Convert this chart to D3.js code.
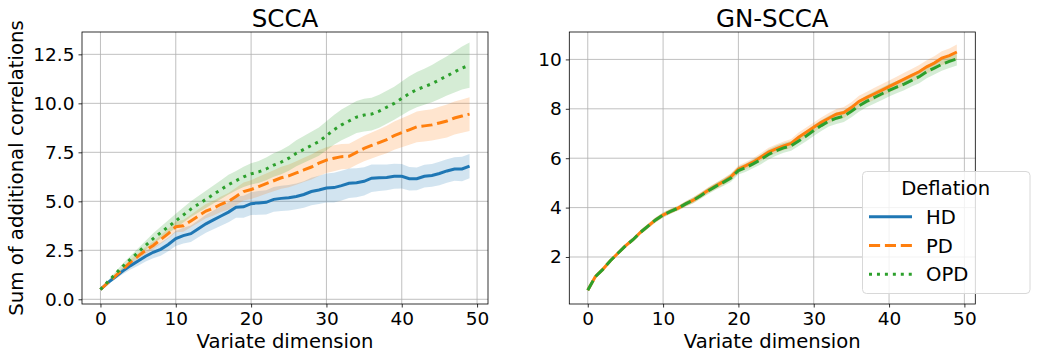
<!DOCTYPE html>
<html>
<head>
	<meta charset="UTF-8" />
	<title>SCCA vs GN-SCCA</title>
	<script src="https://d3js.org/d3.v7.min.js"></script>
	<style>
		body { margin: 0; background: #fff; }
		text { font-family: "DejaVu Sans", sans-serif; fill: #000; }
	</style>
</head>
<body>
	<svg id="chart" width="1037" height="360"></svg>

	<script type="text/javascript">
	// colours (matplotlib tab10)
	blue = "#1f77b4"
	orange = "#ff7f0e"
	green = "#2ca02c"

	// data
	var dims = d3.range(0, 50)
	var seriesNames = ["HD", "PD", "OPD"]

	var sccaHD = [0.5,0.85,1.15,1.45,1.72,1.95,2.2,2.4,2.55,2.8,3.1,3.25,3.35,3.6,3.85,4.05,4.25,4.45,4.7,4.72,4.88,4.92,4.95,5.1,5.15,5.18,5.25,5.35,5.5,5.58,5.68,5.7,5.8,5.92,5.95,6.02,6.18,6.2,6.22,6.28,6.28,6.15,6.15,6.28,6.32,6.42,6.55,6.65,6.65,6.8]
	var sccaHDsd = [0,0.08,0.12,0.16,0.2,0.24,0.27,0.3,0.33,0.35,0.38,0.4,0.42,0.44,0.46,0.48,0.5,0.52,0.54,0.56,0.58,0.6,0.62,0.63,0.64,0.65,0.66,0.68,0.7,0.72,0.74,0.76,0.76,0.75,0.74,0.72,0.7,0.68,0.66,0.64,0.62,0.6,0.58,0.58,0.58,0.6,0.6,0.6,0.62,0.62]
	var sccaPD = [0.5,0.85,1.2,1.55,1.9,2.2,2.5,2.75,3.05,3.35,3.7,3.75,4.0,4.25,4.5,4.65,4.85,5.0,5.25,5.5,5.6,5.75,5.9,6.05,6.2,6.3,6.45,6.6,6.75,6.95,7.1,7.2,7.28,7.3,7.5,7.7,7.85,8.0,8.15,8.35,8.5,8.65,8.8,8.85,8.9,9.0,9.1,9.25,9.35,9.45]
	var sccaPDsd = [0,0.05,0.08,0.1,0.13,0.15,0.18,0.2,0.22,0.25,0.28,0.3,0.32,0.34,0.36,0.38,0.4,0.42,0.44,0.46,0.48,0.5,0.52,0.54,0.56,0.58,0.6,0.62,0.64,0.66,0.66,0.66,0.65,0.64,0.64,0.65,0.66,0.68,0.7,0.72,0.74,0.76,0.78,0.8,0.8,0.82,0.84,0.84,0.85,0.86]
	var sccaOPD = [0.5,0.9,1.3,1.7,2.05,2.4,2.75,3.1,3.4,3.7,4.0,4.3,4.6,4.85,5.1,5.35,5.6,5.85,6.05,6.25,6.4,6.5,6.65,6.85,7.0,7.2,7.45,7.65,7.85,8.05,8.35,8.65,8.9,9.1,9.3,9.4,9.45,9.6,9.8,10.0,10.25,10.5,10.7,10.85,11.0,11.2,11.4,11.6,11.8,11.95]
	var sccaOPDsd = [0,0.06,0.1,0.14,0.17,0.2,0.24,0.27,0.3,0.33,0.36,0.38,0.4,0.42,0.44,0.46,0.48,0.5,0.5,0.52,0.54,0.56,0.58,0.6,0.62,0.64,0.66,0.68,0.7,0.72,0.74,0.76,0.78,0.8,0.82,0.84,0.84,0.84,0.84,0.84,0.86,0.88,0.9,0.92,0.95,0.98,1.0,1.05,1.1,1.15]

	var gnPD = [0.65,1.2,1.5,1.85,2.15,2.45,2.7,3.0,3.25,3.5,3.7,3.85,3.98,4.15,4.3,4.5,4.7,4.88,5.05,5.25,5.55,5.7,5.85,6.05,6.25,6.38,6.5,6.6,6.85,7.05,7.25,7.45,7.62,7.78,7.85,8.05,8.3,8.45,8.6,8.75,8.9,9.05,9.2,9.35,9.5,9.7,9.85,10.05,10.15,10.3]
	var gnPDsd = [0,0.04,0.05,0.06,0.07,0.08,0.08,0.09,0.1,0.1,0.1,0.1,0.1,0.11,0.12,0.12,0.12,0.13,0.14,0.14,0.15,0.15,0.16,0.16,0.17,0.17,0.18,0.18,0.19,0.19,0.2,0.2,0.21,0.21,0.22,0.22,0.23,0.23,0.24,0.24,0.25,0.25,0.26,0.26,0.27,0.27,0.28,0.28,0.29,0.3]
	var gnOPD = [0.65,1.2,1.5,1.85,2.15,2.45,2.7,3.0,3.25,3.5,3.7,3.85,3.98,4.15,4.3,4.48,4.68,4.86,5.02,5.2,5.5,5.62,5.78,5.95,6.15,6.3,6.42,6.5,6.7,6.9,7.12,7.32,7.5,7.62,7.7,7.9,8.12,8.3,8.45,8.6,8.75,8.88,9.0,9.15,9.3,9.5,9.65,9.8,9.92,10.02]
	var gnOPDsd = [0,0.04,0.05,0.06,0.07,0.08,0.08,0.09,0.1,0.1,0.1,0.1,0.1,0.11,0.12,0.12,0.13,0.14,0.15,0.16,0.16,0.17,0.18,0.19,0.2,0.2,0.2,0.2,0.21,0.21,0.22,0.22,0.22,0.23,0.23,0.24,0.24,0.24,0.25,0.25,0.25,0.25,0.25,0.25,0.26,0.26,0.26,0.26,0.27,0.27]

	var sccaTicksY = [0, 2.5, 5, 7.5, 10, 12.5]
	var gnTicksY = [2, 4, 6, 8, 10]
	var ticksX = [0, 10, 20, 30, 40, 50]

	var svg = d3.select("#chart")

	function pack(mean, sd){
		return dims.map((d,i) => ({x: d, y: mean[i], lo: mean[i]-sd[i], hi: mean[i]+sd[i]}))
	}

	function Panel(opts){
		var xScale = d3.scaleLinear().domain([-2.45, 51.45]).range([opts.left, opts.right])
		var yScale = d3.scaleLinear().domain(opts.yDomain).range([304, 32])
		var g = svg.append("g")

		// grid
		g.selectAll(".gx").data(ticksX).join("line")
			.attr("x1", d => xScale(d)).attr("x2", d => xScale(d))
			.attr("y1", 32).attr("y2", 304)
			.style("stroke", "#b0b0b0").style("stroke-width", 0.8)
		g.selectAll(".gy").data(opts.yTicks).join("line")
			.attr("y1", d => yScale(d)).attr("y2", d => yScale(d))
			.attr("x1", opts.left).attr("x2", opts.right)
			.style("stroke", "#b0b0b0").style("stroke-width", 0.8)

		var area = d3.area().x(d => xScale(d.x)).y0(d => yScale(d.lo)).y1(d => yScale(d.hi))
		var line = d3.line().x(d => xScale(d.x)).y(d => yScale(d.y))

		opts.series.forEach(s => {
			if(s.band) g.append("path").attr("d", area(s.data))
				.style("fill", s.color).style("fill-opacity", 0.2).style("stroke", "none")
		})
		opts.series.forEach(s => {
			g.append("path").attr("d", line(s.data))
				.style("fill", "none").style("stroke", s.color).style("stroke-width", 3)
				.style("stroke-dasharray", s.dash)
		})

		// axes
		var xAxis = d3.axisBottom(xScale).tickValues(ticksX).tickSize(3.5).tickPadding(4)
		var xg = g.append("g").attr("transform", "translate(0,304)").call(xAxis)
		var yAxis = d3.axisLeft(yScale).tickValues(opts.yTicks).tickSize(3.5).tickPadding(4)
			.tickFormat(opts.yFormat)
		var yg = g.append("g").attr("transform", `translate(${opts.left},0)`).call(yAxis)
		;[xg, yg].forEach(a => {
			a.select(".domain").remove()
			a.selectAll(".tick line").style("stroke", "#000").style("stroke-width", 0.8)
			a.selectAll(".tick text").style("font-size", "18.5px").style("font-family", "DejaVu Sans")
		})
		g.append("rect").attr("x", opts.left).attr("y", 32)
			.attr("width", opts.right - opts.left).attr("height", 272)
			.style("fill", "none").style("stroke", "#000").style("stroke-width", 0.8)

		var cx = (opts.left + opts.right) / 2
		g.append("text").attr("x", cx).attr("y", 26.5).attr("text-anchor", "middle")
			.style("font-size", "24.5px").text(opts.title)
		g.append("text").attr("x", cx).attr("y", 347.5).attr("text-anchor", "middle")
			.style("font-size", "19.6px").text("Variate dimension")
		return g
	}

	Panel({
		left: 82, right: 488, yDomain: [-0.24, 13.64], yTicks: sccaTicksY,
		yFormat: d3.format(".1f"), title: "SCCA",
		series: [
			{data: pack(sccaHD, sccaHDsd), color: blue, dash: null, band: true},
			{data: pack(sccaPD, sccaPDsd), color: orange, dash: "11.1,4.8", band: true},
			{data: pack(sccaOPD, sccaOPDsd), color: green, dash: "3,4.95", band: true}
		]
	})

	svg.append("text").attr("transform", "translate(22.5,168) rotate(-90)")
		.attr("text-anchor", "middle").style("font-size", "19.7px")
		.text("Sum of additional correlations")

	Panel({
		left: 569.3, right: 975.3, yDomain: [0.097, 11.11], yTicks: gnTicksY,
		yFormat: d3.format("d"), title: "GN-SCCA",
		series: [
			{data: pack(gnPD, gnPDsd), color: orange, dash: null, band: true},
			{data: pack(gnOPD, gnOPDsd), color: green, dash: "11.1,4.8", band: true}
		]
	})

	// legend
	var lg = svg.append("g")
	lg.append("rect").attr("x", 862.5).attr("y", 171.5).attr("width", 167.5).attr("height", 122)
		.attr("rx", 4).style("fill", "#fff").style("fill-opacity", 0.8)
		.style("stroke", "#d8d8d8").style("stroke-width", 1)
	lg.append("text").attr("x", 945.7).attr("y", 194.5).attr("text-anchor", "middle")
		.style("font-size", "19.6px").text("Deflation")
	var legendDash = [null, "11.1,4.8", "3,4.95"]
	var legendColor = [blue, orange, green]
	seriesNames.forEach((name, i) => {
		var yy = 216.7 + i * 28.8
		lg.append("line").attr("x1", 869).attr("x2", 912).attr("y1", yy).attr("y2", yy)
			.style("stroke", legendColor[i]).style("stroke-width", 3)
			.style("stroke-dasharray", legendDash[i])
		lg.append("text").attr("x", 926).attr("y", yy + 7).style("font-size", "19.6px").text(name)
	})
	</script>
</body>
</html>
